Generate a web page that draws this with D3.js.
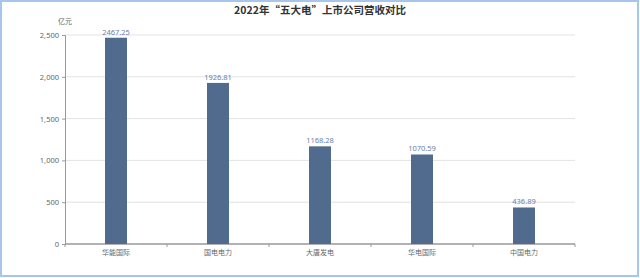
<!DOCTYPE html>
<html>
<head>
<meta charset="utf-8">
<script src="https://cdn.jsdelivr.net/npm/d3@7"></script>
<style>
  html, body { margin:0; padding:0; background:#fff; }
  svg { display:block; font-family:"Noto Sans CJK SC", "Noto Sans", sans-serif; }
</style>
</head>
<body>
<div id="plotDiv"></div>
<script>
const companies = ['华能国际', '国电电力', '大唐发电', '华电国际', '中国电力'];
const revenue = [2467.25, 1926.81, 1168.28, 1070.59, 436.89];
const yTicks = [0, 500, 1000, 1500, 2000, 2500];

const W = 640, H = 278;
const margin = {top:35, right:65, bottom:34, left:65};
const width = W - margin.left - margin.right;
const height = H - margin.top - margin.bottom;

const svg_container = d3.select("#plotDiv")
  .append("svg")
  .attr("width", W)
  .attr("height", H);

// outer light blue frame
svg_container.append("rect")
  .attr("x", 1).attr("y", 1)
  .attr("width", W - 3).attr("height", H - 3)
  .attr("fill", "none")
  .attr("stroke", "#a8c6ec")
  .attr("stroke-width", 2);

const svg = svg_container.append("g")
  .attr("transform", `translate(${margin.left},${margin.top})`);

// scales
const xScale = d3.scaleBand().domain(companies).range([0, width]);
const yScale = d3.scaleLinear().domain([0, 2500]).range([height, 0]);

// gridlines
svg.append("g").selectAll("line")
  .data(yTicks.slice(1))
  .enter().append("line")
  .attr("x1", 0).attr("x2", width)
  .attr("y1", d => yScale(d)).attr("y2", d => yScale(d))
  .attr("stroke", "#e3e3e3");

// y axis
const yAxis = svg.append("g")
  .call(d3.axisLeft(yScale).tickValues(yTicks).tickFormat(d3.format(",")).tickSize(3).tickPadding(3));
yAxis.select(".domain").attr("stroke", "#999");
yAxis.selectAll(".tick line").attr("stroke", "#999");
yAxis.selectAll("text").attr("fill", "#666").style("font-size", "7.5px").style("font-family", "'Noto Sans', sans-serif");

// x axis: ticks at band boundaries
const xAxis = svg.append("g").attr("transform", `translate(0,${height})`);
xAxis.append("line")
  .attr("x1", 0).attr("x2", width)
  .attr("stroke", "#999").attr("stroke-width", 1.5);
xAxis.selectAll(".xt")
  .data(d3.range(companies.length + 1))
  .enter().append("line")
  .attr("x1", i => i * xScale.step()).attr("x2", i => i * xScale.step())
  .attr("y1", 0).attr("y2", 3)
  .attr("stroke", "#999");
xAxis.selectAll(".xl")
  .data(companies)
  .enter().append("text")
  .attr("x", d => xScale(d) + xScale.bandwidth() / 2)
  .attr("y", 11)
  .attr("text-anchor", "middle")
  .attr("fill", "#666")
  .style("font-size", "7px")
  .text(d => d);

// bars
const barW = 22;
svg.selectAll(".bar")
  .data(revenue)
  .enter().append("rect")
  .attr("class", "bar")
  .attr("x", (d, i) => xScale(companies[i]) + xScale.bandwidth() / 2 - barW / 2)
  .attr("y", d => yScale(d))
  .attr("width", barW)
  .attr("height", d => height - yScale(d))
  .style("fill", "#516b8e");

// value labels
svg.selectAll(".val")
  .data(revenue)
  .enter().append("text")
  .attr("x", (d, i) => xScale(companies[i]) + xScale.bandwidth() / 2)
  .attr("y", d => yScale(d) - 3)
  .attr("text-anchor", "middle")
  .attr("fill", "#6a80ab")
  .style("font-size", "7.5px")
  .style("font-family", "'Noto Sans', sans-serif")
  .text(d => d);

// unit
svg_container.append("text")
  .attr("x", 65).attr("y", 24)
  .attr("text-anchor", "middle")
  .attr("fill", "#666")
  .style("font-size", "7px")
  .text("亿元");

// title
svg_container.append("text")
  .attr("x", 320).attr("y", 14)
  .attr("text-anchor", "middle")
  .attr("fill", "#333")
  .style("font-size", "10.5px")
  .style("font-weight", "bold")
  .text("2022年“五大电”上市公司营收对比");
</script>
</body>
</html>
